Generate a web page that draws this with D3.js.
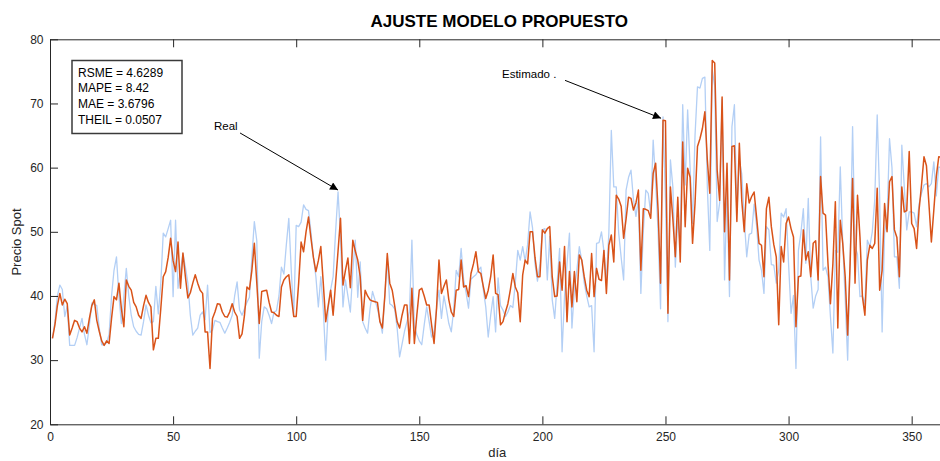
<!DOCTYPE html>
<html>
<head>
<meta charset="utf-8">
<script src="https://cdn.jsdelivr.net/npm/d3@7"></script>
<style>
  html, body { margin: 0; padding: 0; background: #fff; }
  svg { display: block; font-family: "Liberation Sans", Arial, Helvetica, sans-serif; }
</style>
</head>
<body>
<svg id="chart" width="940" height="461"></svg>
<script>
// Daily spot price: observed series and fitted model output (days 1..365)
const real = [
  33.4,36.0,40.0,41.7,41.0,36.8,38.4,32.3,32.3,32.3,
  33.5,35.0,36.5,34.0,32.4,35.5,38.9,38.7,38.5,35.0,
  32.4,32.4,32.7,34.0,40.0,44.0,46.1,40.0,35.7,40.0,
  44.3,40.0,37.0,35.2,34.5,34.0,33.9,36.0,38.6,37.0,
  35.8,36.0,41.5,37.2,42.0,49.8,49.2,50.5,51.8,39.9,
  51.8,41.2,44.0,46.6,44.5,42.0,37.0,33.9,34.5,35.0,
  37.0,37.5,36.3,41.7,34.3,34.7,36.2,36.0,35.9,35.0,
  34.2,35.0,35.9,37.0,40.0,42.2,37.8,37.0,38.0,39.0,
  39.8,46.0,51.6,48.6,30.3,36.0,38.3,38.0,37.0,35.7,
  37.5,37.7,40.0,44.5,43.4,48.0,52.1,44.0,36.8,51.0,
  50.8,51.5,54.2,53.5,53.3,50.0,46.0,43.0,38.3,43.0,
  38.0,30.0,38.0,41.0,43.0,50.0,56.2,49.2,38.3,42.5,
  40.0,37.5,44.0,48.7,39.8,45.3,36.0,35.0,34.2,38.0,
  40.7,39.4,38.0,36.3,34.2,40.0,45.9,38.8,38.5,38.0,
  35.0,30.5,32.5,34.5,36.0,37.5,48.7,35.2,34.0,33.0,
  32.4,35.5,38.3,36.0,33.6,34.5,38.0,40.9,36.5,40.0,
  38.0,35.7,34.4,38.0,44.0,43.0,47.4,42.6,40.5,38.1,
  42.6,43.0,43.3,44.0,44.5,41.0,38.3,33.6,37.0,39.9,
  34.4,42.8,38.5,37.8,36.8,37.5,38.5,38.2,42.0,47.1,
  45.6,47.7,45.4,48.0,53.1,50.6,45.0,42.3,45.0,50.3,
  50.5,42.5,49.3,39.4,36.5,42.0,47.4,31.3,40.0,45.0,
  49.8,35.0,41.0,44.0,47.7,45.5,42.0,40.0,38.3,38.5,
  31.3,48.2,48.3,50.0,47.0,42.5,49.8,65.8,57.0,57.0,
  49.8,46.0,42.5,56.5,58.5,59.6,55.0,52.4,55.0,40.4,
  50.0,56.5,56.0,52.9,64.3,57.8,50.0,38.0,67.9,55.0,
  36.0,61.2,57.0,44.5,52.0,48.0,69.8,57.3,69.0,60.0,
  51.3,65.0,72.6,72.4,73.9,74.1,57.0,47.1,75.2,72.7,
  51.6,54.5,70.6,42.5,56.4,39.9,66.4,69.8,52.9,61.2,
  59.0,52.0,46.1,49.6,49.8,54.3,51.0,45.6,44.0,40.4,
  50.8,50.3,44.9,44.8,42.0,44.0,52.9,52.3,53.6,45.0,
  37.3,40.1,28.7,47.1,49.8,53.6,45.1,55.2,43.0,38.1,
  40.0,41.0,64.8,44.0,44.5,43.0,36.8,31.1,47.1,46.8,
  60.1,48.3,39.5,30.0,45.9,66.4,47.7,46.5,39.9,40.0,
  38.7,48.7,47.7,50.0,55.0,68.2,55.4,34.4,50.0,51.8,
  64.5,60.0,46.1,46.1,41.2,63.5,57.0,50.3,53.1,53.1,
  52.9,50.8,54.3,56.0,57.3,57.5,57.0,57.5,60.9,55.6,
  60.1,60.0,57.0,55.0,58.0
];

const estimado = [
  33.4,35.5,38.5,40.4,38.6,39.5,38.8,33.9,35.0,36.2,
  36.0,35.0,34.4,35.2,34.2,36.5,38.5,39.4,36.2,34.5,
  33.0,32.3,33.0,32.6,36.5,39.9,39.4,42.0,38.0,35.2,
  42.5,41.5,40.9,39.0,38.3,37.0,36.5,38.5,40.1,39.0,
  38.3,31.6,33.4,33.4,38.0,43.0,43.8,46.0,49.0,45.5,
  43.8,48.4,41.2,46.7,43.0,39.7,40.5,42.0,43.3,42.0,
  40.9,40.4,34.4,34.4,28.7,36.5,37.5,38.8,38.7,37.5,
  36.8,36.7,37.5,38.8,37.5,36.8,33.4,34.1,37.0,41.4,
  41.0,44.0,48.2,42.0,35.7,40.7,40.8,40.9,39.0,37.5,
  37.4,37.0,36.8,41.4,42.5,43.0,43.3,40.0,36.8,36.8,
  42.0,48.4,46.9,50.0,52.3,49.0,46.0,43.8,45.5,47.7,
  42.0,36.0,38.5,40.9,37.0,42.0,47.0,52.1,41.7,44.0,
  45.9,41.3,48.7,47.0,45.6,43.0,36.2,40.9,40.0,39.4,
  39.2,39.1,39.0,36.0,35.0,40.0,46.6,42.0,40.9,38.5,
  36.0,35.0,37.0,38.6,38.6,32.6,41.2,32.6,37.0,40.9,
  41.2,40.0,38.6,38.6,35.5,32.6,38.0,45.6,40.4,41.5,
  42.5,39.4,37.5,36.8,40.9,41.0,45.6,41.4,41.6,39.9,
  43.5,45.0,46.9,43.8,43.5,41.5,39.6,40.9,43.0,46.4,
  40.4,40.2,35.5,36.0,37.5,38.8,41.0,43.5,41.4,40.5,
  36.0,43.3,45.6,45.0,50.0,50.0,46.0,43.0,43.0,50.3,
  49.8,50.5,50.8,43.0,39.9,40.0,45.3,40.9,47.7,36.0,
  43.8,38.3,43.8,39.1,46.4,45.6,43.0,40.9,39.9,46.6,
  39.9,44.3,42.6,42.4,47.1,40.4,47.9,49.5,45.3,55.7,
  55.1,54.0,49.0,52.0,55.4,55.2,53.4,54.5,56.5,44.0,
  53.6,53.5,53.3,52.1,59.1,60.7,53.4,42.0,67.4,67.3,
  37.3,57.0,52.0,46.1,55.4,45.3,64.0,50.8,59.9,58.5,
  48.2,54.4,63.3,64.5,66.1,68.7,61.2,56.0,76.7,76.3,
  59.6,54.9,71.0,50.0,60.7,42.5,63.3,63.4,51.6,63.8,
  54.8,50.0,57.5,54.5,55.5,56.2,52.3,48.2,47.9,43.0,
  53.6,55.4,50.8,48.0,46.1,35.5,47.7,45.3,51.3,52.3,
  50.5,49.2,35.2,43.0,43.1,50.3,45.6,46.9,43.0,48.2,
  48.6,42.5,58.6,52.9,52.6,45.1,38.8,45.0,54.7,35.0,
  51.8,48.2,43.0,33.9,45.1,58.3,42.0,55.7,49.2,39.9,
  37.0,45.6,47.9,47.4,48.2,56.8,40.9,44.0,54.4,50.0,
  57.8,58.6,50.3,49.1,43.0,57.0,53.1,53.3,62.5,51.3,
  50.5,47.4,53.4,57.3,61.7,60.3,54.4,48.4,53.4,58.6,
  61.7,61.6,58.0,55.0,57.0
];

const days = d3.range(1, real.length + 1);

const xTicks = [0, 50, 100, 150, 200, 250, 300, 350];
const yTicks = [20, 30, 40, 50, 60, 70, 80];
const xDomain = [0, 365];
const yDomain = [20, 80];

const statLines = ["RSME = 4.6289", "MAPE = 8.42", "MAE = 3.6796", "THEIL = 0.0507"];

const titleText = "AJUSTE MODELO PROPUESTO";
const xLabelText = "día";
const yLabelText = "Precio Spot";

// Text arrows in data units: label anchor, tail and head of each arrow
const arrowNotes = [
  { text: "Real",       at: [66.6, 65.9],  from: [77.2, 65.4],  to: [117.0, 56.5] },
  { text: "Estimado .", at: [183.6, 74.0], from: [209.2, 73.6], to: [248.2, 67.7] }
];

// ---- layout ----
const axisColor = "#262626";
const realColor = "#b3cff5";
const estColor = "#d95319";

const plot = { left: 50, right: 948.6, top: 39.3, bottom: 424.3 };

const svg = d3.select("#chart");

const x = d3.scaleLinear().domain(xDomain).range([plot.left, plot.right]);
const y = d3.scaleLinear().domain(yDomain).range([plot.bottom, plot.top]);

// series
const line = (vals) => d3.line()
  .x((d, i) => x(days[i]))
  .y(d => y(d))(vals);

svg.append("path")
  .attr("d", line(real))
  .attr("fill", "none")
  .attr("stroke", realColor)
  .attr("stroke-width", 1.3)
  .attr("stroke-linejoin", "round");

svg.append("path")
  .attr("d", line(estimado))
  .attr("fill", "none")
  .attr("stroke", estColor)
  .attr("stroke-width", 1.5)
  .attr("stroke-linejoin", "round");

// axes box with inward ticks on all four sides
const tickLen = 8;

const gx = svg.append("g")
  .attr("transform", `translate(0,${plot.bottom})`)
  .call(d3.axisBottom(x).tickValues(xTicks).tickFormat(d3.format("d"))
    .tickSizeInner(-tickLen).tickSizeOuter(0).tickPadding(8.5));

const gxTop = svg.append("g")
  .attr("transform", `translate(0,${plot.top})`)
  .call(d3.axisTop(x).tickValues(xTicks).tickFormat("")
    .tickSizeInner(-tickLen).tickSizeOuter(0));

const gy = svg.append("g")
  .attr("transform", `translate(${plot.left},0)`)
  .call(d3.axisLeft(y).tickValues(yTicks).tickFormat(d3.format("d"))
    .tickSizeInner(-tickLen).tickSizeOuter(0).tickPadding(6.5));

const gyRight = svg.append("g")
  .attr("transform", `translate(${plot.right},0)`)
  .call(d3.axisRight(y).tickValues(yTicks).tickFormat("")
    .tickSizeInner(-tickLen).tickSizeOuter(0));

[gx, gxTop, gy, gyRight].forEach(g => {
  g.select(".domain").attr("stroke", axisColor).attr("stroke-width", 1);
  g.selectAll(".tick line").attr("stroke", axisColor).attr("stroke-width", 1);
  g.selectAll(".tick text")
    .attr("fill", axisColor)
    .style("font-family", '"Liberation Sans", Arial, Helvetica, sans-serif')
    .style("font-size", "12px");
});

// title and axis labels
svg.append("text")
  .attr("x", (plot.left + plot.right) / 2)
  .attr("y", 27)
  .attr("text-anchor", "middle")
  .attr("fill", "#000")
  .style("font-size", "17px")
  .style("font-weight", "bold")
  .text(titleText);

svg.append("text")
  .attr("x", (plot.left + plot.right) / 2 - 2)
  .attr("y", 457)
  .attr("text-anchor", "middle")
  .attr("fill", axisColor)
  .style("font-size", "13px")
  .text(xLabelText);

svg.append("text")
  .attr("transform", `translate(21,242) rotate(-90)`)
  .attr("text-anchor", "middle")
  .attr("fill", axisColor)
  .style("font-size", "13px")
  .text(yLabelText);

// statistics box
const statBox = svg.append("g").attr("transform", "translate(72,60.5)");
statBox.append("rect")
  .attr("width", 110)
  .attr("height", 73)
  .attr("fill", "#fff")
  .attr("stroke", "#3a3a3a")
  .attr("stroke-width", 1.5);
statBox.selectAll("text")
  .data(statLines)
  .join("text")
  .attr("x", 6)
  .attr("y", (d, i) => 16 + i * 15.8)
  .attr("fill", "#000")
  .style("font-size", "12px")
  .text(d => d);

// annotation arrows
svg.append("defs").append("marker")
  .attr("id", "head")
  .attr("viewBox", "0 0 10 10")
  .attr("refX", 10)
  .attr("refY", 5)
  .attr("markerWidth", 11)
  .attr("markerHeight", 8)
  .attr("markerUnits", "userSpaceOnUse")
  .attr("orient", "auto")
  .append("path")
  .attr("d", "M0,0 L10,5 L0,10 Z")
  .attr("fill", "#000");

const notes = svg.append("g");
notes.selectAll("line")
  .data(arrowNotes)
  .join("line")
  .attr("x1", d => x(d.from[0]))
  .attr("y1", d => y(d.from[1]))
  .attr("x2", d => x(d.to[0]))
  .attr("y2", d => y(d.to[1]))
  .attr("stroke", "#000")
  .attr("stroke-width", 1)
  .attr("marker-end", "url(#head)");
notes.selectAll("text")
  .data(arrowNotes)
  .join("text")
  .attr("x", d => x(d.at[0]))
  .attr("y", d => y(d.at[1]))
  .attr("fill", "#000")
  .style("font-size", "11.5px")
  .text(d => d.text);
</script>
</body>
</html>
